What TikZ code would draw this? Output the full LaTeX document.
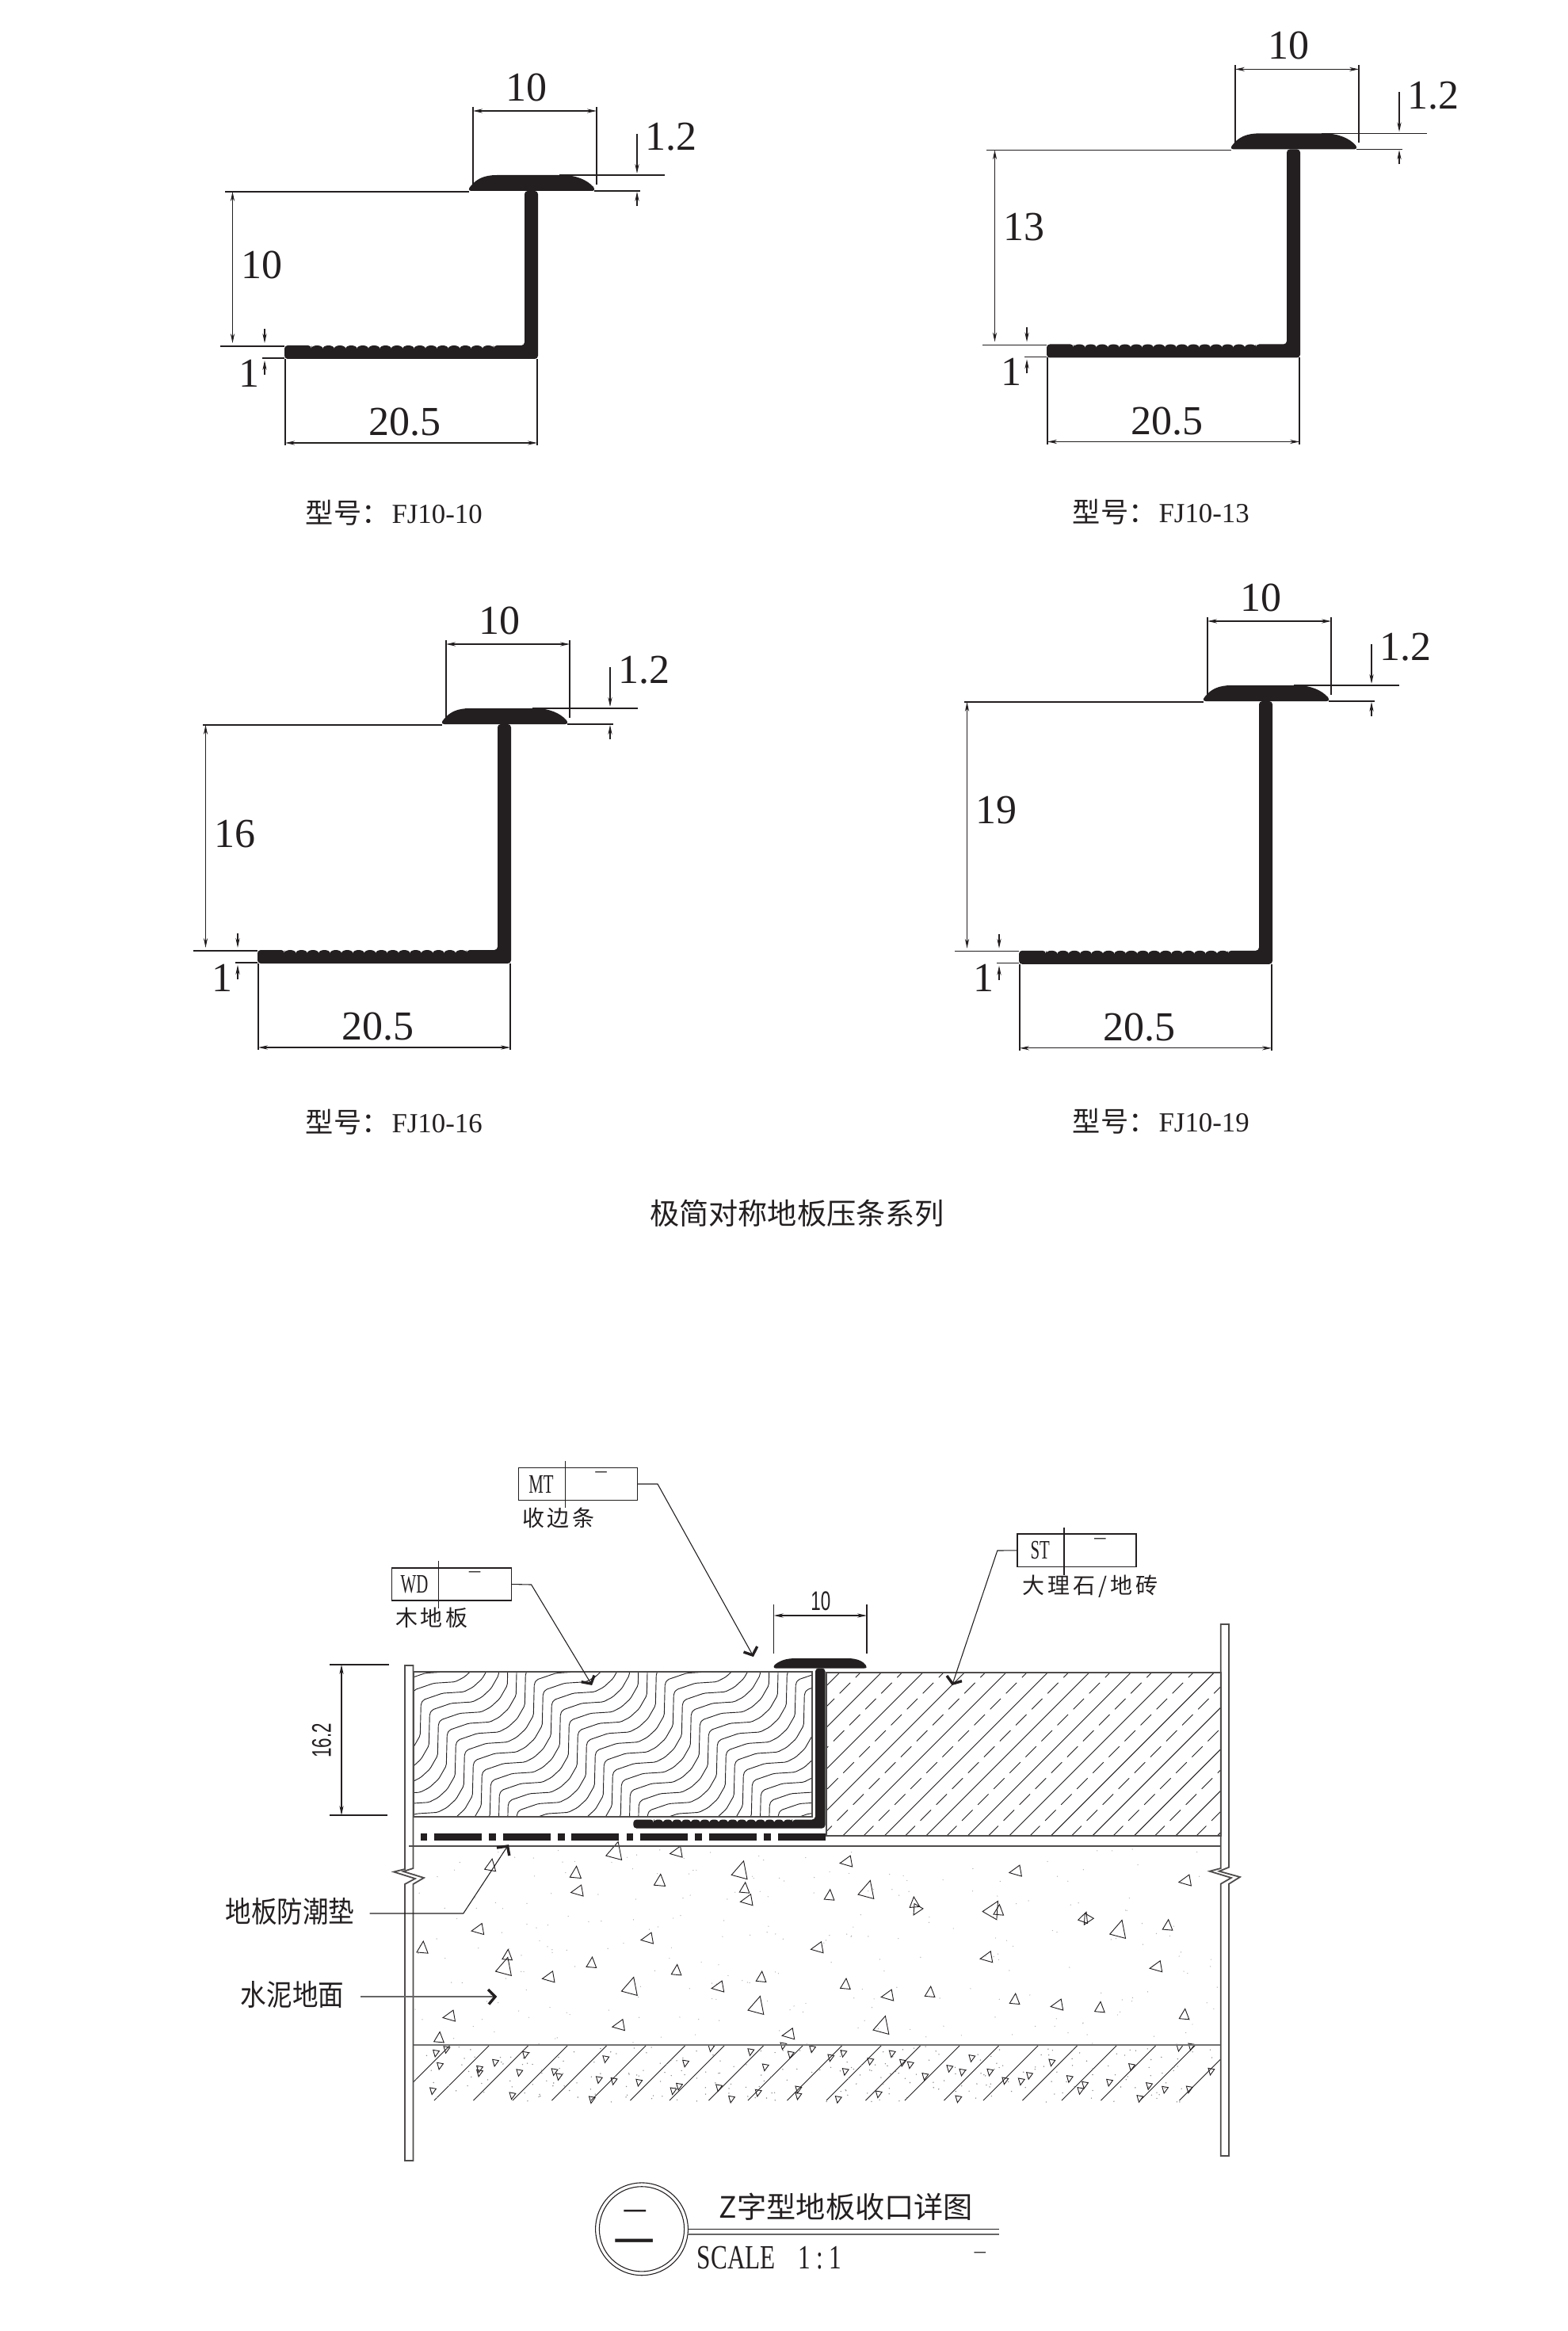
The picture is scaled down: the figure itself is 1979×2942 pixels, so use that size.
\documentclass[tikz,border=0pt]{standalone}
\usepackage{fontspec}
\usetikzlibrary{arrows.meta}
\setmainfont{Liberation Serif}
\newfontfamily\cjk{Noto Sans CJK SC}
\newfontfamily\cjktall[FakeStretch=.88]{Noto Sans CJK SC}
\newfontfamily\narrowsans[FakeStretch=.66]{Liberation Sans}
\newfontfamily\narrowserif[FakeStretch=.62]{Liberation Serif}
\newfontfamily\scaleserif[FakeStretch=.73]{Liberation Serif}
\definecolor{ink}{HTML}{231F20}
\tikzset{
  thinline/.style={line width=.27pt, ink},
  hatchline/.style={line width=.23pt, ink},
  wallline/.style={line width=.45pt, ink!80},
  dimarrow/.style={thinline, -{Stealth[length=3pt,width=1.3pt]}},
  dimboth/.style={thinline, {Stealth[length=3pt,width=1.3pt]}-{Stealth[length=3pt,width=1.3pt]}},
  tickmark/.style={line width=.85pt, ink},
  dimtext/.style={inner sep=0pt, text=ink, font=\fontsize{13pt}{13pt}\selectfont},
  modeltext/.style={inner sep=0pt, anchor=west, text=ink, font=\fontsize{8.7pt}{8.7pt}\selectfont},
  cjktext/.style={inner sep=0pt, text=ink, font=\cjk\fontsize{7pt}{7pt}\selectfont},
  tagtext/.style={inner sep=0pt, text=ink, font=\narrowserif\fontsize{8.4pt}{8.4pt}\selectfont},
  tagdash/.style={inner sep=0pt, text=ink, font=\cjk\fontsize{4pt}{4pt}\selectfont},
  cadtext/.style={inner sep=0pt, text=ink, font=\narrowsans\fontsize{8.5pt}{8.5pt}\selectfont},
  tagbox/.style={draw=ink, line width=.27pt, inner sep=0pt},
}
\begin{document}
\begin{tikzpicture}[x=.25pt, y=-.25pt]
  \useasboundingbox (0, 0) rectangle (1979, 2942);

  % the four profiles
  \foreach \xb/\yb/\yc/\hh/\ty/\cx/\cy/\xl/\nm in {
      359/453/241/10/334/385/647/-75/10,
      1321/451.5/188.4/13/287/1353/646.5/-76/13,
      325/1216/914/16/1053/385/1416/-69/16,
      1286/1216.8/885/19/1022.6/1353/1415/-69/19} {
    \begin{scope}[shift={(\xb, \yc)}]
      \fill[ink] (236, 0) .. controls (232, 0) and (232, -3) .. (235, -6)
        .. controls (242, -15) and (252, -20) .. (268, -20) -- (350, -20)
        .. controls (368, -20) and (382, -14) .. (390, -5)
        .. controls (392, -2) and (391, 0) .. (388, 0) -- cycle;
      \draw[thinline] (238, -106) -- (238, -6);
      \draw[thinline] (394, -106) -- (394, -8);
      \draw[dimboth] (238, -101) -- (394, -101);
      \node[dimtext] (capw-\nm) at (305, -131) {10};
      \draw[thinline] (347, -20) -- (480, -20);
      \draw[thinline] (391, 0) -- (449, 0);
      \draw[dimarrow] (445, -72) -- (445, -22);
      \draw[dimarrow] (445, 19) -- (445, 1);
      \node[dimtext] (capt-\nm) at (488, -68) {1.2};
      \draw[thinline] (\xl, 1) -- (233, 1);
    \end{scope}
    \begin{scope}[shift={(\xb, \yb)}]
      \fill[ink, rounded corners=1pt] (0, 0) -- (320, 0) -- (320, {\yc-\yb}) -- (303, {\yc-\yb})
        -- (303, -17) -- (264, -17) -- (264, -13) -- (34, -13) -- (34, -17) -- (0, -17) -- cycle;
      \foreach \i in {0,...,15}
        \fill[ink] ({41.2+14.4*\i}, -13) ellipse [x radius=7.2, y radius=4];
      \draw[thinline] (-81, -16) -- (0, -16);
      \draw[thinline] (-28, -1) -- (0, -1);
      \draw[dimarrow] (-25, -38) -- (-25, -20);
      \draw[dimarrow] (-25, 20) -- (-25, 2);
      \node[dimtext] (baset-\nm) at (-45, 18) {1};
      \draw[thinline] (1, 0) -- (1, 109);
      \draw[thinline] (319, 0) -- (319, 109);
      \draw[dimboth] (1, 106) -- (319, 106);
      \node[dimtext] (basew-\nm) at (152, 80) {20.5};
    \end{scope}
    \draw[dimboth] ({\xb-65.5}, {\yc+1}) -- ({\xb-65.5}, {\yb-20});
    \node[dimtext] (height-\nm) at ({\xb-29}, \ty) {\hh};
    \node[modeltext] (model-\nm) at (\cx, \cy) {{\cjk\fontsize{8.8pt}{8.8pt}\selectfont 型号：}\hspace{.8pt}FJ10-\hh};
  }
  \node[inner sep=0pt, text=ink, font=\cjk\fontsize{9.3pt}{9.3pt}\selectfont] (seriestitle) at (1006, 1531) {极简对称地板压条系列};

  % floor layers
  \begin{scope}
    \clip (521.7, 2110) rectangle (1025, 2292.7);
    \foreach \k in {-14,...,19}
      \draw[hatchline, rounded corners=.5pt] ({618.3+11*\k-3*88}, {2291.7+12.67*\k+3*88.7})
        foreach \n in {1,...,10} { -- ++(1, -40) -- ++(3, -5) -- ++(24.3, -8.3) -- ++(26.7, -1.7)
          -- ++(11.7, -6) -- ++(11.6, -10.7) -- ++(9.7, -17) };
  \end{scope}
  \begin{scope}
    \clip (1043.3, 2110.7) rectangle (1540.7, 2317.3);
    \foreach \k in {-1,...,12} {
      \draw[hatchline] ({3223.3+52.5*\k-2110}, 2110) -- ({3223.3+52.5*\k-2318}, 2318);
      \draw[hatchline, dash pattern=on 4.75pt off 2.35pt] ({3249.5+52.5*\k-2318}, 2318) -- ({3249.5+52.5*\k-2110}, 2110);
    }
  \end{scope}
  \begin{scope}
    \clip (521.7, 2581) rectangle (1540.7, 2651);
    \foreach \k in {-1,...,19}
      \draw[hatchline] ({548+49.5*\k}, 2651) -- ({548+49.5*\k+71}, 2580);
  \end{scope}

  % speckle
  \pgfmathsetseed{7}
  \foreach \i in {1,...,260}
    \fill[black!30] ({523+rnd*1016}, {2333+rnd*247}) circle (.7);
  \foreach \i in {1,...,260}
    \fill[black!45] ({523+rnd*1016}, {2583+rnd*70}) circle (.8);

  % aggregate
  \foreach \x/\y/\s/\r in {
      619.6/2355/9/280, 726.8/2364.3/9/275, 729.4/2387/9/170, 776.8/2337/13/285, 854.4/2338/9/170,
      833/2374.3/9/275, 935.2/2361.3/13/285, 940/2383.7/8/275, 943.3/2398.7/9/170, 604/2435.5/9/170,
      533.5/2459/9/275, 640.6/2468.3/8/275, 637.5/2483/13/285, 693.3/2495.8/9/170, 817.8/2447/9/170,
      746.8/2478/8/275, 854/2487.4/8/275, 796.4/2508/13/285, 907/2508/9/170, 567.8/2545/9/170,
      554.4/2572.4/8/275, 781.7/2556.6/9/170, 1069/2350/9/170, 1282.7/2362/9/170, 1095/2386/13/285,
      1047/2392.7/8/275, 1154/2402/8/265, 1157/2410/8/120, 1253/2410.7/13/300, 1260.7/2411.7/8/275,
      1032.3/2458.7/9/170, 1246/2470.7/9/170, 961/2496/8/275, 1067.3/2505/8/275, 1121/2519/9/170,
      1174/2515/8/275, 1281/2524/8/275, 956/2532/13/285, 1114/2557/13/285, 996/2567.7/9/170,
      1496.7/2374/9/170, 1368.3/2420.7/8/290, 1372.3/2422.3/8/120, 1412.7/2436/13/285, 1474/2430.7/8/275,
      1460/2482.7/9/170, 1335/2531/9/170, 1388.3/2534.3/8/275, 1495/2543.3/8/275}
    \draw[hatchline] (\x, \y) +(\r:\s) -- +({\r+128}:\s) -- +({\r+232}:\s) -- cycle;
  \foreach \x/\y in {
      550/2591, 555/2607, 563.4/2586.4, 546/2638.6, 605/2611, 605/2616, 625/2603, 663/2593, 655.3/2615.5,
      646.4/2644.6, 699.5/2614.5, 705.3/2620.5, 764.3/2598.4, 755.8/2624.5, 774.5/2626.2, 746.8/2649.6,
      806.2/2628, 849.5/2638.6, 857/2633, 865/2603.8, 897.3/2584.4, 907/2634.6, 923/2649, 947.3/2589.4,
      988.3/2581.7, 997.7/2592.7, 1025/2585.7, 965.7/2608.7, 956.7/2641, 1007.3/2636.7, 1007.3/2645,
      1048.3/2596.7, 1064.3/2591.3, 1066.7/2614.3, 1057.7/2649.3, 1098.3/2601.3, 1125.7/2591.7, 1139/2603,
      1148.7/2605.7, 1108.7/2642.7, 1167.3/2620.3, 1198.3/2610.3, 1214.3/2615, 1226.3/2597.3, 1249.3/2615,
      1268.3/2625.7, 1288.7/2626.7, 1299/2619.3, 1209.3/2648.7, 1327.3/2602.7, 1349.7/2623.3, 1369/2631,
      1363.3/2638.3, 1400/2628, 1428/2608.3, 1450/2632.3, 1470/2637, 1500.7/2636.7, 1528.3/2614,
      1488.3/2584, 1503.3/2582.7, 1438.3/2648.3}
    \draw[hatchline] (\x, \y) +(100:5) -- +(228:5) -- +(332:5) -- cycle;

  % layer outlines
  \draw[wallline] (521.7, 2110) rectangle (1025, 2292.7);
  \draw[wallline] (1043.3, 2110.7) rectangle (1540.7, 2317.3);
  \draw[wallline] (516, 2330) -- (1540.7, 2330);
  \draw[line width=.6pt, black!55] (521.7, 2581) -- (1540.7, 2581);
  \foreach \k in {0,...,5} {
    \fill[ink] ({530.5+86.7*\k}, 2314.4) rectangle ({539.3+86.7*\k}, 2322.7);
    \fill[ink] ({548+86.7*\k}, 2314.4) rectangle ({608+86.7*\k}, 2322.7);
  }

  % broken edges
  \draw[wallline] (511, 2359) -- (511, 2102) -- (521.4, 2102) -- (521.4, 2358) -- (509, 2362) -- (535, 2370) -- (521.4, 2378)
    -- (521.4, 2727) -- (511, 2727) -- (511, 2378) -- (524, 2371) -- (497, 2362.5) -- cycle;
  \draw[wallline] (1540.7, 2358) -- (1540.7, 2050) -- (1551, 2050) -- (1551, 2356.7) -- (1538.7, 2361.7) -- (1565, 2369) -- (1551, 2377.7)
    -- (1551, 2721) -- (1540.7, 2721) -- (1540.7, 2377.7) -- (1554, 2370) -- (1526.7, 2361.7) -- cycle;

  % strip in the section
  \fill[ink, rounded corners=1pt] (799.3, 2307.5) -- (1041.5, 2307.5) -- (1041.5, 2105.5) -- (1029, 2105.5) -- (1029, 2296.5)
    -- (1000, 2296.5) -- (1000, 2299.5) -- (825, 2299.5) -- (825, 2296.5) -- (799.3, 2296.5) -- cycle;
  \foreach \i in {0,...,14}
    \fill[ink] ({831+11.7*\i}, 2299.5) ellipse [x radius=5.85, y radius=3];
  \fill[ink] (979, 2105.5) .. controls (976, 2105.5) and (976, 2103) .. (978, 2101)
    .. controls (984, 2096) and (992, 2093) .. (1004, 2093) -- (1070, 2093)
    .. controls (1082, 2093) and (1090, 2097) .. (1093, 2102)
    .. controls (1094, 2104) and (1094, 2105.5) .. (1091, 2105.5) -- cycle;

  % dimensions of the section
  \draw[thinline] (976.7, 2025) -- (976.7, 2087);
  \draw[thinline] (1094, 2025) -- (1094, 2087);
  \draw[dimboth] (976.7, 2039) -- (1094, 2039);
  \node[cadtext] (stripw) at (1035.8, 2021) {10};
  \draw[thinline] (416, 2101) -- (491, 2101);
  \draw[thinline] (416, 2291) -- (489, 2291);
  \draw[dimboth] (431, 2101) -- (431, 2291);
  \node[cadtext, rotate=90] (floorh) at (406, 2197) {16.2};

  % material tags
  \node[tagbox, minimum width=150.5*.25pt, minimum height=41*.25pt] (mtbox) at (729.3, 1873) {};
  \draw[thinline] (713.5, 1843.6) -- (713.5, 1903);
  \node[tagtext] (mttag) at (683, 1873.6) {MT};
  \node[tagdash] (mtdash) at (758.5, 1861) {一};
  \node[cjktext] (mtname) at (705, 1915.7) {收\hspace{1pt}边\hspace{1pt}条};
  \coordinate (mttip) at (950, 2089);
  \draw[thinline] (mtbox.east) -- (830, 1873) -- (mttip);
  \draw[tickmark] (938.5, 2085) -- (mttip) -- (955.7, 2078);

  \node[tagbox, minimum width=150.5*.25pt, minimum height=41*.25pt] (wdbox) at (569.8, 1999.5) {};
  \draw[thinline] (553.5, 1970) -- (553.5, 2030);
  \node[tagtext] (wdtag) at (523, 2000) {WD};
  \node[tagdash] (wddash) at (599, 1987.4) {一};
  \node[cjktext] (wdname) at (545, 2042) {木\hspace{1pt}地\hspace{1pt}板};
  \coordinate (wdtip) at (746, 2125);
  \draw[thinline] (wdbox.east) -- (670.6, 2000) -- (wdtip);
  \draw[tickmark] (733.7, 2122.7) -- (wdtip) -- (750, 2114.5);

  \node[tagbox, minimum width=150*.25pt, minimum height=41.6*.25pt] (stbox) at (1359, 1956.8) {};
  \draw[thinline] (1343, 1927.5) -- (1343, 1988);
  \node[tagtext] (sttag) at (1312.7, 1957) {ST};
  \node[tagdash] (stdash) at (1388.3, 1944.7) {一};
  \node[cjktext] (stname) at (1375.8, 2002) {大\hspace{1pt}理\hspace{1pt}石\hspace{1pt}/\hspace{1pt}地\hspace{1pt}砖};
  \coordinate (sttip) at (1202.3, 2125);
  \draw[thinline] (stbox.west) -- (1258.8, 1957) -- (sttip);
  \draw[tickmark] (1195, 2115) -- (sttip) -- (1214, 2121.7);

  \node[inner sep=0pt, text=ink, font=\cjktall\fontsize{9.25pt}{9.25pt}\selectfont] (matname) at (366, 2412) {地板防潮垫};
  \coordinate (mattip) at (640.6, 2330);
  \draw[thinline] (466.5, 2415) -- (584.8, 2415) -- (mattip);
  \draw[tickmark] (627, 2332) -- (mattip) -- (642.8, 2342);

  \node[inner sep=0pt, text=ink, font=\cjktall\fontsize{9.25pt}{9.25pt}\selectfont] (cemname) at (369, 2517) {水泥地面};
  \coordinate (cemtip) at (625, 2520);
  \draw[line width=.45pt, black!60] (455.3, 2520) -- (cemtip);
  \draw[tickmark] (616, 2511) -- (cemtip) -- (617, 2529.6);

  % title block
  \node[circle, draw=ink, line width=.27pt, minimum size=116.8*.25pt, inner sep=0pt] (titleout) at (810, 2813.3) {};
  \node[circle, draw=ink, line width=.27pt, minimum size=107.2*.25pt, inner sep=0pt] (titlein) at (810, 2813.3) {};
  \node[inner sep=0pt, text=ink, font=\cjk\fontsize{7.6pt}{7.6pt}\selectfont] (titlenum) at (802, 2795.6) {一};
  \node[inner sep=0pt, text=ink, font=\cjk\fontsize{13pt}{13pt}\selectfont] (titlepage) at (800.7, 2837) {一};
  \draw[thinline] (titleout.east) -- (1260.6, 2813.3);
  \draw[line width=.6pt, black!60] (868.4, 2820) -- (1260.6, 2820);
  \node[inner sep=0pt, text=ink, font=\cjk\fontsize{9.3pt}{9.3pt}\selectfont] (titletext) at (1068, 2785.7) {Z字型地板收口详图};
  \node[inner sep=0pt, anchor=west, text=ink, font=\scaleserif\fontsize{10.7pt}{10.7pt}\selectfont] (scaletext) at (879, 2850) {SCALE\hspace{7.2pt}1\,:\,1};
  \node[tagdash] (scaledash) at (1236.8, 2846) {一};
\end{tikzpicture}
\end{document}
